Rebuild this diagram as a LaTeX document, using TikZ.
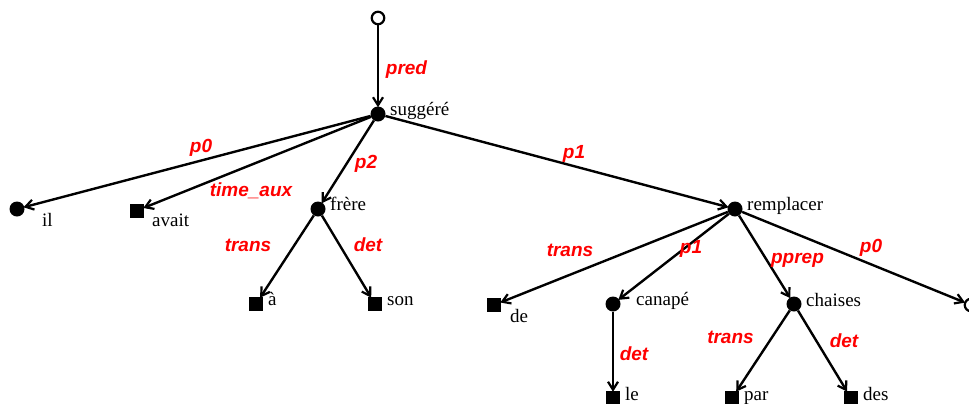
\documentclass[tikz,border=0pt]{standalone}
\usepackage{fontspec}
\setmainfont{Liberation Serif}
\newfontfamily\labfont{Liberation Sans}
\usetikzlibrary{arrows.meta}
\begin{document}
\begin{tikzpicture}[x=1bp,y=-1bp,
  dotnode/.style={circle,fill=black,inner sep=0pt,minimum size=15bp},
  sqnode/.style={rectangle,fill=black,inner sep=0pt,minimum size=14bp},
  opennode/.style={circle,draw=black,fill=white,line width=2.2bp,inner sep=0pt,minimum size=12.5bp},
  word/.style={anchor=base west,inner sep=0pt,font=\fontsize{19bp}{22bp}\selectfont},
  lab/.style={anchor=base,inner sep=0pt,text=red,font=\fontsize{19bp}{22bp}\labfont\bfseries\itshape},
  edge/.style={line width=2.4bp,-{Straight Barb[length=8bp,width=10bp,line width=2.2bp]},shorten >=-1bp}]
\useasboundingbox (0,0) rectangle (969,403);
% nodes
\node[opennode] (root) at (378,18) {};
\node[dotnode] (sugg) at (378,114) {};
\node[dotnode] (il) at (17,209) {};
\node[sqnode] (avait) at (137,210.5) {};
\node[dotnode] (frere) at (318,209) {};
\node[sqnode] (a) at (256,304) {};
\node[sqnode] (son) at (375,304) {};
\node[dotnode] (rempl) at (735,209) {};
\node[sqnode] (de) at (494,305) {};
\node[dotnode] (canape) at (613,304) {};
\node[sqnode] (le) at (613,398) {};
\node[dotnode] (chaises) at (794,304) {};
\node[sqnode] (par) at (732,398) {};
\node[sqnode] (des) at (851,398) {};
\node[opennode] (openR) at (971,305) {};
% words
\node[word] (wsugg) at (390,115) {suggéré};
\node[word] (wil) at (42,226) {il};
\node[word] (wavait) at (152,226) {avait};
\node[word] (wfrere) at (330,210) {frère};
\node[word] (wa) at (268,305) {à};
\node[word] (wson) at (387,305) {son};
\node[word] (wrempl) at (747,210) {remplacer};
\node[word] (wde) at (510,322) {de};
\node[word] (wcanape) at (636,305) {canapé};
\node[word] (wchaises) at (806,306) {chaises};
\node[word] (wle) at (625,400) {le};
\node[word] (wpar) at (744,400) {par};
\node[word] (wdes) at (863,400) {des};
% edges
\draw[edge] (root) -- (sugg);
\draw[edge] (sugg) -- (il);
\draw[edge] (sugg) -- (avait);
\draw[edge] (sugg) -- (frere);
\draw[edge] (sugg) -- (rempl);
\draw[edge] (frere) -- (a);
\draw[edge] (frere) -- (son);
\draw[edge] (rempl) -- (de);
\draw[edge] (rempl) -- (canape);
\draw[edge] (rempl) -- (chaises);
\draw[edge] (rempl) -- (openR);
\draw[edge] (canape) -- (le);
\draw[edge] (chaises) -- (par);
\draw[edge] (chaises) -- (des);
% edge labels
\node[lab] (lpred) at (406.5,74) {pred};
\node[lab] (lp0a) at (201,152) {p0};
\node[lab] (ltime) at (251,196) {time\_aux};
\node[lab] (lp2) at (366,168) {p2};
\node[lab] (lp1a) at (574,158) {p1};
\node[lab] (ltransa) at (248,251) {trans};
\node[lab] (ldeta) at (368,251) {det};
\node[lab] (ltransb) at (570,256) {trans};
\node[lab] (lp1b) at (691,253) {p1};
\node[lab] (lpprep) at (797.5,263) {pprep};
\node[lab] (lp0b) at (871,252) {p0};
\node[lab] (ldetb) at (634,360) {det};
\node[lab] (ltransc) at (730.5,343) {trans};
\node[lab] (ldetc) at (844,347) {det};
\end{tikzpicture}
\end{document}
